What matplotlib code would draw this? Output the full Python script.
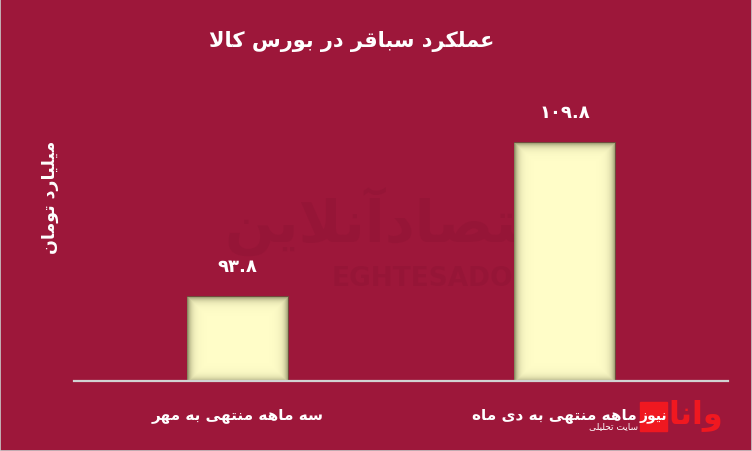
import numpy as np
import matplotlib
matplotlib.use("Agg")
import matplotlib.pyplot as plt

plt.rcParams['font.family'] = ['DejaVu Sans']

# ---------------- data ----------------
categories = ["سه ماهه منتهی به مهر", "نه ماهه منتهی به دی ماه"]
values = [93.8, 109.8]
value_labels = ["۹۳.۸", "۱۰۹.۸"]
title = "عملکرد سباقر در بورس کالا"
ylabel = "میلیارد تومان"

# ---------------- minimal Persian shaping ----------------
FORMS = {  # iso, fin, ini, med
    'ا': ('\uFE8D', '\uFE8E', None, None),
    'آ': ('\uFE81', '\uFE82', None, None),
    'ب': ('\uFE8F', '\uFE90', '\uFE91', '\uFE92'),
    'ت': ('\uFE95', '\uFE96', '\uFE97', '\uFE98'),
    'ح': ('\uFEA1', '\uFEA2', '\uFEA3', '\uFEA4'),
    'د': ('\uFEA9', '\uFEAA', None, None),
    'ر': ('\uFEAD', '\uFEAE', None, None),
    'ز': ('\uFEAF', '\uFEB0', None, None),
    'س': ('\uFEB1', '\uFEB2', '\uFEB3', '\uFEB4'),
    'ش': ('\uFEB5', '\uFEB6', '\uFEB7', '\uFEB8'),
    'ص': ('\uFEB9', '\uFEBA', '\uFEBB', '\uFEBC'),
    'ع': ('\uFEC9', '\uFECA', '\uFECB', '\uFECC'),
    'ق': ('\uFED5', '\uFED6', '\uFED7', '\uFED8'),
    'ک': ('\uFED9', '\uFEDA', '\uFEDB', '\uFEDC'),
    'ل': ('\uFEDD', '\uFEDE', '\uFEDF', '\uFEE0'),
    'م': ('\uFEE1', '\uFEE2', '\uFEE3', '\uFEE4'),
    'ن': ('\uFEE5', '\uFEE6', '\uFEE7', '\uFEE8'),
    'ه': ('\uFEE9', '\uFEEA', '\uFEEB', '\uFEEC'),
    'و': ('\uFEED', '\uFEEE', None, None),
    'ی': ('\uFEEF', '\uFEF0', '\uFEF3', '\uFEF4'),
}


def shape(text):
    out = []
    n = len(text)
    i = 0
    while i < n:
        c = text[i]
        if c not in FORMS:
            out.append(c)
            i += 1
            continue
        prev = text[i - 1] if i > 0 else ''
        prev_j = prev in FORMS and FORMS[prev][2] is not None
        if c == 'ل' and i + 1 < n and text[i + 1] == 'ا':
            out.append('\uFEFC' if prev_j else '\uFEFB')
            i += 2
            continue
        nxt = text[i + 1] if i + 1 < n else ''
        next_j = nxt in FORMS
        iso, fin, ini, med = FORMS[c]
        if ini is None:
            out.append(fin if prev_j else iso)
        else:
            if prev_j and next_j:
                out.append(med)
            elif next_j:
                out.append(ini)
            elif prev_j:
                out.append(fin)
            else:
                out.append(iso)
        i += 1
    return ''.join(out)[::-1]


# ---------------- figure ----------------
BG = '#9D173A'
W, H = 752, 452
fig = plt.figure(figsize=(W / 100, H / 100), dpi=100, facecolor=BG)
fig.patches.append(plt.Rectangle((0, 0), 1, 1, transform=fig.transFigure,
                                 fill=False, edgecolor='#C9C9C9', lw=1.2))

ax_l, ax_r, ax_b, ax_t = 74, 728, 382, 40
ax = fig.add_axes([ax_l / W, 1 - ax_b / H, (ax_r - ax_l) / W, (ax_b - ax_t) / H])
ax.set_facecolor('none')
ymin = 85.05
ppu = 9.625
ax.set_xlim(-0.5, 1.5)
ax.set_ylim(ymin, ymin + (ax_b - ax_t) / ppu)
for s in ['left', 'right', 'top']:
    ax.spines[s].set_visible(False)
ax.spines['bottom'].set_color('#D2D2D2')
ax.spines['bottom'].set_linewidth(1.6)
ax.spines['bottom'].set_zorder(5)
ax.set_xticks([])
ax.set_yticks([])

# watermark
ax.text(0.50, 0.47, shape("اقتصادآنلاین"), transform=ax.transAxes, fontsize=42,
        fontweight='bold', color='#8E1434', alpha=0.45, ha='center', va='center', zorder=0)
ax.text(0.60, 0.30, "EGHTESADONLINE", transform=ax.transAxes, fontsize=19,
        fontweight='bold', color='#8E1434', alpha=0.45, ha='center', va='center', zorder=0)

x = np.arange(len(values))
bw = 0.31
bars = ax.bar(x, values, width=bw, color='#FFFDC8', zorder=2, bottom=0)

# inset edge shading on bars
fig.canvas.draw()
for xi, v in zip(x, values):
    x0, y0 = ax.transData.transform((xi - bw / 2, ymin))
    x1, y1 = ax.transData.transform((xi + bw / 2, v))
    wpx = int(round(x1 - x0))
    hpx = int(round(y1 - y0))
    xx = np.arange(wpx) + 0.5
    yy = np.arange(hpx) + 0.5  # from top
    dx = np.minimum(xx, wpx - xx)[None, :]
    dt = yy[:, None]
    db = (hpx - yy)[:, None]
    s = 3.6
    a = np.maximum(np.exp(-dx / s), np.exp(-dt / s))
    a = np.maximum(a, 0.6 * np.exp(-db / s))
    a = np.clip(a * 0.85, 0, 1)
    rgba = np.zeros((hpx, wpx, 4))
    rgba[..., 0] = 95 / 255
    rgba[..., 1] = 95 / 255
    rgba[..., 2] = 60 / 255
    rgba[..., 3] = a
    ax.imshow(rgba, extent=(xi - bw / 2, xi + bw / 2, ymin, v), aspect='auto',
              zorder=3, interpolation='bilinear')

ax.set_xlim(-0.5, 1.5)
ax.set_ylim(ymin, ymin + (ax_b - ax_t) / ppu)

# value labels
for xi, v, lab in zip(x, values, value_labels):
    ax.annotate(lab, (xi, v), xytext=(0, 22), textcoords='offset points',
                ha='center', va='center', color='white', fontsize=13,
                fontweight='bold', zorder=6)

# category labels
for xi, c in zip(x, categories):
    ax.annotate(shape(c), (xi, ymin), xytext=(0, -24), textcoords='offset points',
                ha='center', va='center', color='white', fontsize=11,
                fontweight='bold', zorder=6, annotation_clip=False)

# title
fig.text(352 / W, 1 - 42 / H, shape(title), ha='center', va='center', color='white',
         fontsize=15, fontweight='bold')

# y label
fig.text(50 / W, 1 - 197 / H, shape(ylabel), ha='center', va='center', color='white',
         fontsize=12.5, fontweight='bold', rotation=90)

# logo (bottom right)
fig.patches.append(plt.Rectangle((640 / W, 1 - 432 / H), 27 / W, 29 / H,
                                 transform=fig.transFigure, color='#F01820', zorder=7))
fig.text(653.5 / W, 1 - 417 / H, shape("نیوز"), ha='center', va='center', color='white',
         fontsize=10, fontweight='bold', zorder=8)
fig.text(696 / W, 1 - 415 / H, shape("وانا"), ha='center', va='center', color='#F01820',
         fontsize=23, fontweight='bold', zorder=8)
fig.text(638 / W, 1 - 427 / H, shape("سایت تحلیلی"), ha='right', va='center', color='white',
         fontsize=6.5, zorder=8)

fig.savefig('out.png', dpi=100, facecolor=BG)
